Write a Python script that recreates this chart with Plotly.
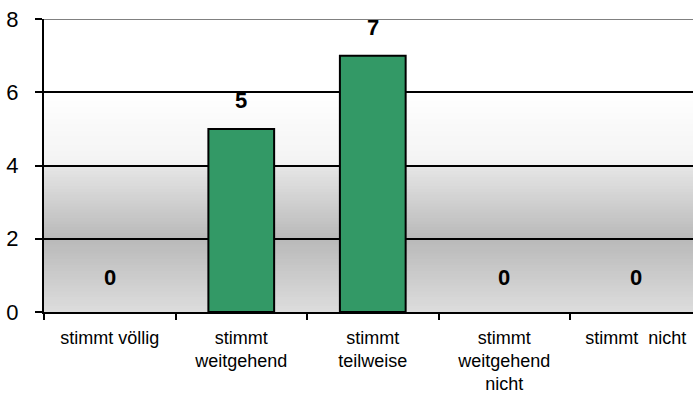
import plotly.graph_objects as go

categories = ["stimmt völlig", "stimmt<br>weitgehend", "stimmt<br>teilweise",
              "stimmt<br>weitgehend<br>nicht", "stimmt  nicht"]
values = [0, 5, 7, 0, 0]
y_ticks = [0, 2, 4, 6, 8]

FONT = "Liberation Sans, Arial, sans-serif"

fig = go.Figure()
fig.add_trace(go.Bar(
    x=categories, y=values, width=0.5,
    marker=dict(color="#339966",
                line=dict(color="#000000", width=[2 if v > 0 else 0 for v in values])),
    hoverinfo="skip",
))

# background gradient (value, gray level)
stops = [(8.0, 255), (6.0, 255), (4.02, 243), (3.98, 230), (2.0, 185), (0.0, 221)]
def gray_at(v):
    for (v1, g1), (v2, g2) in zip(stops[:-1], stops[1:]):
        if v2 <= v <= v1:
            t = (v1 - v) / (v1 - v2) if v1 != v2 else 0
            return g1 + (g2 - g1) * t
    return 255

shapes = []
n = 100
step = 8 / n
for i in range(n):
    y0 = step * i
    y1 = min(8, step * (i + 1) + step * 0.6)
    g = int(round(gray_at(y0 + step / 2)))
    c = f"rgb({g},{g},{g})"
    shapes.append(dict(type="rect", xref="paper", yref="y", x0=0, x1=1, y0=y0, y1=y1,
                       fillcolor=c, line=dict(width=0), layer="below"))
shapes.append(dict(type="line", xref="paper", yref="y", x0=0, x1=1, y0=8, y1=8,
                   line=dict(color="#808080", width=2), layer="above"))

annotations = []
for c, v in zip(categories, values):
    annotations.append(dict(x=c, y=v, xref="x", yref="y", text=f"<b>{v}</b>",
                            showarrow=False, yanchor="bottom",
                            yshift=20 if v == 0 else 14,
                            font=dict(family=FONT, size=22, color="#000000")))

fig.update_layout(
    width=693, height=396,
    margin=dict(l=44, r=0, t=19, b=84),
    paper_bgcolor="#ffffff", plot_bgcolor="#ffffff",
    showlegend=False, bargap=0.5,
    shapes=shapes, annotations=annotations,
    xaxis=dict(type="category", range=[-0.5, 4.435], tickson="boundaries",
               ticks="outside", ticklen=6, tickwidth=2, tickcolor="#000000",
               showline=True, linecolor="#000000", linewidth=2,
               showgrid=False, zeroline=False, ticklabelstandoff=8,
               tickfont=dict(family=FONT, size=18, color="#000000")),
    yaxis=dict(range=[0, 8], tickvals=y_ticks, ticks="outside", ticklen=7,
               tickwidth=2, tickcolor="#000000",
               showline=True, linecolor="#000000", linewidth=2,
               showgrid=True, gridcolor="#000000", gridwidth=2,
               zeroline=False, ticklabelstandoff=12,
               tickfont=dict(family=FONT, size=22, color="#000000")),
)

fig.write_html("out.html")
